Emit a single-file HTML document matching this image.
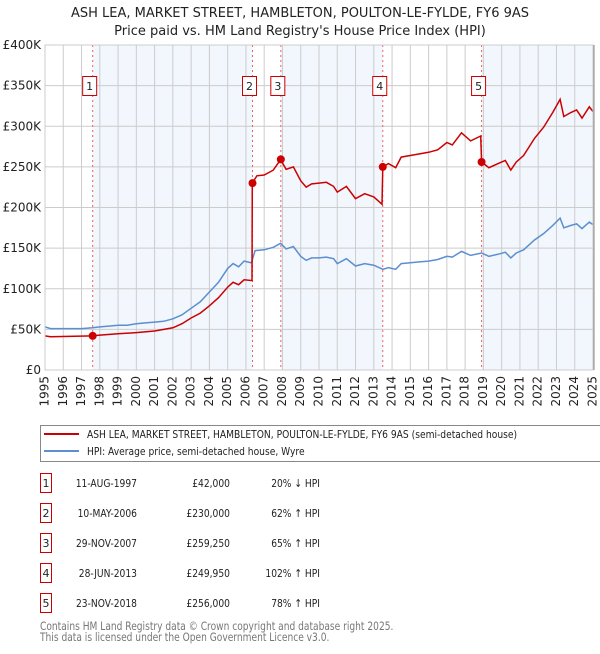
<!DOCTYPE html>
<html><head><meta charset="utf-8"><style>
body{margin:0;background:#fff;font-family:"DejaVu Sans","Liberation Sans",sans-serif;}
svg text{font-family:"DejaVu Sans","Liberation Sans",sans-serif;}
</style></head><body>
<svg id="c" width="600" height="650" xmlns="http://www.w3.org/2000/svg">
<text x="300" y="17" text-anchor="middle" font-size="13" fill="#222">ASH LEA, MARKET STREET, HAMBLETON, POULTON-LE-FYLDE, FY6 9AS</text>
<text x="300" y="35" text-anchor="middle" font-size="13" fill="#222">Price paid vs. HM Land Registry's House Price Index (HPI)</text>
<g id="plot"></g>
<g>
<rect x="40.5" y="425.5" width="570" height="36" fill="#fff" stroke="#888"/>
<line x1="44" y1="434" x2="79" y2="434" stroke="#cc0000" stroke-width="2"/>
<text class="cond" x="87" y="438" font-size="11" fill="#222">ASH LEA, MARKET STREET, HAMBLETON, POULTON-LE-FYLDE, FY6 9AS (semi-detached house)</text>
<line x1="44" y1="451" x2="79" y2="451" stroke="#5b8fd0" stroke-width="2"/>
<text class="cond" x="87" y="455" font-size="11" fill="#222">HPI: Average price, semi-detached house, Wyre</text>
</g>
<g id="table"></g>
<text class="cond" x="40" y="630" font-size="11.5" fill="#777">Contains HM Land Registry data © Crown copyright and database right 2025.</text>
<text class="cond" x="40" y="641" font-size="11.5" fill="#777">This data is licensed under the Open Government Licence v3.0.</text>
</svg>
<script>
const hpiDates=[1995.0,1995.3,1996,1997,1997.6,1998,1998.5,1999,1999.5,2000,2000.5,2001,2001.5,2002,2002.5,2003,2003.5,2004,2004.5,2005,2005.3,2005.6,2005.9,2006.3,2006.5,2007,2007.5,2007.9,2008.2,2008.6,2009,2009.3,2009.6,2010,2010.4,2010.8,2011,2011.5,2012,2012.5,2013,2013.5,2013.8,2014.2,2014.5,2015,2015.5,2016,2016.5,2017,2017.3,2017.8,2018.3,2018.9,2019.3,2019.9,2020.2,2020.5,2020.8,2021.2,2021.8,2022.3,2022.8,2023.2,2023.4,2023.8,2024.1,2024.4,2024.8,2025.0];
const hpiValues=[53,51,51,51,52,53,54,55,55,57,58,59,60,63,68,76,84,96,108,125,131,127,134,132,147,148,151,156,149,152,140,135,138,138,139,137,131,137,128,131,129,124,126,124,131,132,133,134,136,140,139,146,141,144,140,143,145,138,144,148,160,168,178,187,175,178,180,174,182,179];
const priceDates=[1995.0,1995.3,1997.6,1998,1999,2000,2001,2002,2002.5,2003,2003.5,2004,2004.5,2005,2005.3,2005.6,2005.9,2006.33,2006.35,2006.6,2007,2007.5,2007.9,2008.2,2008.6,2009,2009.3,2009.6,2010,2010.4,2010.8,2011,2011.5,2012,2012.5,2013,2013.45,2013.49,2013.8,2014.2,2014.5,2015,2015.5,2016,2016.5,2017,2017.3,2017.8,2018.3,2018.85,2018.9,2019.3,2019.9,2020.2,2020.5,2020.8,2021.2,2021.8,2022.3,2022.8,2023.2,2023.4,2023.8,2024.1,2024.4,2024.8,2025.0];
const priceValues=[42,41,42,43,44.5,46,48,52,57,64,70,79,89,102,108,105,111,110,230,239,240,246,259,247,250,233,225,229,230,231,226,219,226,211,217,213,204,250,254,249,262,264,266,268,271,280,277,292,282,288,256,249,255,258,246,256,264,285,299,317,333,312,317,320,310,324,318];
const saleIds=["1","2","3","4","5"];
const saleDates=[1997.61,2006.36,2007.91,2013.49,2018.9];
const salePrices=[42,230,259.25,249.95,256];
const saleDateLabels=["11-AUG-1997","10-MAY-2006","29-NOV-2007","28-JUN-2013","23-NOV-2018"];
const salePriceLabels=["£42,000","£230,000","£259,250","£249,950","£256,000"];
const saleHpiLabels=["20% ↓ HPI","62% ↑ HPI","65% ↑ HPI","102% ↑ HPI","78% ↑ HPI"];
const yTicks=[0,50,100,150,200,250,300,350,400];
const yTickLabels=["£0","£50K","£100K","£150K","£200K","£250K","£300K","£350K","£400K"];
const xTicks=[1995,1996,1997,1998,1999,2000,2001,2002,2003,2004,2005,2006,2007,2008,2009,2010,2011,2012,2013,2014,2015,2016,2017,2018,2019,2020,2021,2022,2023,2024,2025];

const L=45,R=593,T=45,B=370,X0=1995,X1=2025,YMAX=400;
const xs=v=>L+(v-X0)/(X1-X0)*(R-L);
const ys=v=>B-v/YMAX*(B-T);
const NS="http://www.w3.org/2000/svg";
const plot=document.getElementById('plot');
function mk(tag,attrs,parent){const e=document.createElementNS(NS,tag);for(const k in attrs)e.setAttribute(k,attrs[k]);(parent||plot).appendChild(e);return e;}

const bandStarts=[0,2,4];
const bandEnds=[1,3,null];
for(let i=0;i<bandStarts.length;i++){
  const a=xs(saleDates[bandStarts[i]]);
  const b=bandEnds[i]===null?R:xs(saleDates[bandEnds[i]]);
  const r=mk('rect',{x:a,y:T,width:b-a,height:B-T,fill:'#eef3fc',opacity:'0.75'});
  
  
}
xTicks.forEach((t,i)=>{
  const g=mk('line',{x1:xs(t),x2:xs(t),y1:T,y2:B,stroke:'#ccc','stroke-width':1});
  
  
  const tl=mk('text',{x:xs(t),y:B+6,'font-size':12,fill:'#222','text-anchor':'end',transform:`rotate(-90 ${xs(t)} ${B+6})`,'dominant-baseline':'middle'});
  tl.textContent=t;
  
  
});
yTicks.forEach((t,i)=>{
  const g=mk('line',{x1:L,x2:R,y1:ys(t),y2:ys(t),stroke:'#ccc','stroke-width':1});
  
  
  const tl=mk('text',{x:L-4,y:ys(t)+4,'font-size':12,fill:'#222','text-anchor':'end'});
  tl.textContent=yTickLabels[i];
  
  
});
saleDates.forEach((d,i)=>{
  const l=mk('line',{x1:xs(d),x2:xs(d),y1:T,y2:B,stroke:'#f06060','stroke-width':1,'stroke-dasharray':'2,3'});
  
  
  const cx=xs(d)-3;
  const r=mk('rect',{x:cx-7,y:76.5,width:14,height:19,fill:'#fff',stroke:'#cc0000','stroke-width':1});
  
  
  const t=mk('text',{x:cx,y:90,'font-size':11,fill:'#222','text-anchor':'middle'});
  t.textContent=saleIds[i];
  
  
});
const hp=mk('path',{d:hpiDates.map((d,i)=>(i?'L':'M')+xs(d).toFixed(1)+','+ys(hpiValues[i]).toFixed(1)).join(''),fill:'none',stroke:'#5b8fd0','stroke-width':1.5});


const pp=mk('path',{d:priceDates.map((d,i)=>(i?'L':'M')+xs(d).toFixed(1)+','+ys(priceValues[i]).toFixed(1)).join(''),fill:'none',stroke:'#cc0000','stroke-width':1.5});


saleDates.forEach((d,i)=>{
  const c=mk('circle',{cx:xs(d),cy:ys(salePrices[i]),r:4,fill:'#cc0000'});
  
  
});
const fr=mk('rect',{x:L,y:T,width:R-L,height:B-T,fill:'none',stroke:'#ccc'});


const ra=mk('line',{x1:R+1,x2:R+1,y1:T,y2:B,stroke:'#888'});



const tbl=document.getElementById('table');
saleIds.forEach((id,i)=>{
  const y=483+i*30;
  const r=mk('rect',{x:40.5,y:y-9.5,width:11,height:19,fill:'#fff',stroke:'#cc0000'},tbl);
  
  
  const cols=[[46,'middle',id,'table-row-id',false],[137,'end',saleDateLabels[i],'table-row-date',true],[230,'end',salePriceLabels[i],'table-row-price',true],[320,'end',saleHpiLabels[i],'table-row-hpi',true]];
  cols.forEach(c=>{
    const t=mk('text',{x:c[0],y:y+4,'font-size':11,fill:'#222','text-anchor':c[1]},tbl);
    if(c[4])t.setAttribute('class','cond');
    t.textContent=c[2];
    
    
  });
});
// condense text to match narrower reference font
document.querySelectorAll('text.cond').forEach(t=>{
  const w=t.getComputedTextLength();
  const f=t.getAttribute('font-size')==='11.5'?0.79:0.83;
  t.setAttribute('textLength',(w*f).toFixed(1));
  t.setAttribute('lengthAdjust','spacingAndGlyphs');
});
</script>
</body></html>
